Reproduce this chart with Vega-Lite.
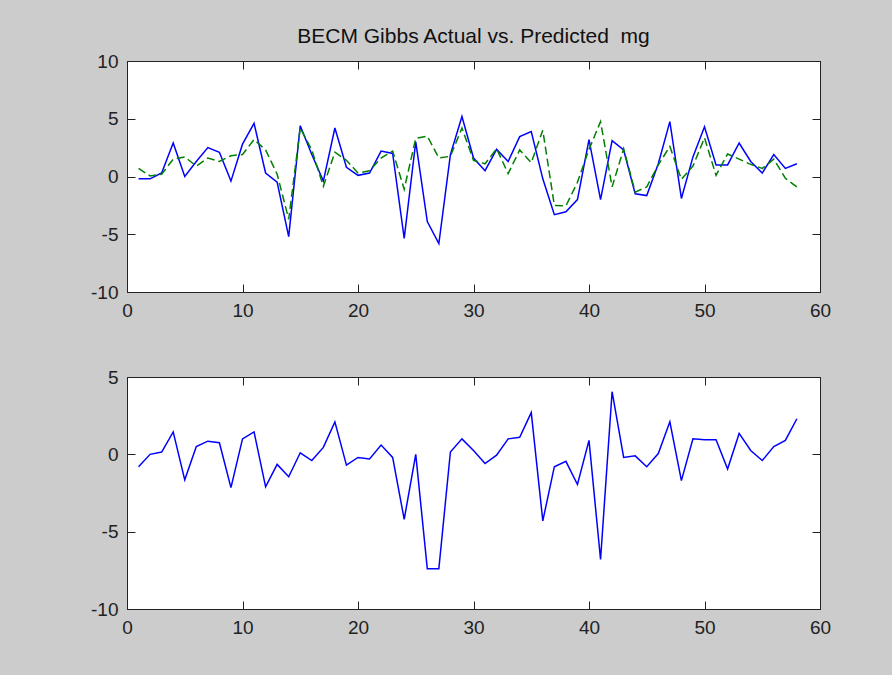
{
  "$schema": "https://vega.github.io/schema/vega-lite/v6.json",
  "background": "#cccccc",
  "padding": {"left": 90, "top": 25, "right": 80, "bottom": 80},
  "config": {
    "font": "Liberation Sans",
    "view": {"fill": "white", "stroke": "#222222", "strokeWidth": 1},
    "axis": {
      "title": null,
      "grid": false,
      "minExtent": 0,
      "domainColor": "#222222",
      "tickColor": "#222222",
      "tickSize": -8,
      "labelPadding": 17,
      "labelFont": "Liberation Sans",
      "labelFontSize": 19,
      "labelColor": "#222222",
      "labelFlush": false,
      "labelOverlap": false,
      "labelExpr": "'' + datum.value"
    }
  },
  "data": {
    "values": [
      {"x": 1, "actual": -0.2, "predicted": 0.7, "residual": -0.8},
      {"x": 2, "actual": -0.2, "predicted": 0.05, "residual": 0.0},
      {"x": 3, "actual": 0.3, "predicted": 0.2, "residual": 0.15},
      {"x": 4, "actual": 2.9, "predicted": 1.5, "residual": 1.45},
      {"x": 5, "actual": 0.0, "predicted": 1.7, "residual": -1.65},
      {"x": 6, "actual": 1.3, "predicted": 0.9, "residual": 0.5},
      {"x": 7, "actual": 2.5, "predicted": 1.6, "residual": 0.85},
      {"x": 8, "actual": 2.1, "predicted": 1.3, "residual": 0.75},
      {"x": 9, "actual": -0.4, "predicted": 1.8, "residual": -2.15},
      {"x": 10, "actual": 2.8, "predicted": 1.9, "residual": 1.0},
      {"x": 11, "actual": 4.6, "predicted": 3.2, "residual": 1.45},
      {"x": 12, "actual": 0.3, "predicted": 2.3, "residual": -2.1},
      {"x": 13, "actual": -0.5, "predicted": 0.2, "residual": -0.65},
      {"x": 14, "actual": -5.2, "predicted": -3.7, "residual": -1.45},
      {"x": 15, "actual": 4.4, "predicted": 4.2, "residual": 0.1},
      {"x": 16, "actual": 1.9, "predicted": 2.3, "residual": -0.4},
      {"x": 17, "actual": -0.4, "predicted": -0.85, "residual": 0.45},
      {"x": 18, "actual": 4.2, "predicted": 2.1, "residual": 2.1},
      {"x": 19, "actual": 0.8, "predicted": 1.4, "residual": -0.7},
      {"x": 20, "actual": 0.1, "predicted": 0.3, "residual": -0.2},
      {"x": 21, "actual": 0.3, "predicted": 0.5, "residual": -0.3},
      {"x": 22, "actual": 2.2, "predicted": 1.6, "residual": 0.6},
      {"x": 23, "actual": 2.0, "predicted": 2.2, "residual": -0.2},
      {"x": 24, "actual": -5.35, "predicted": -1.1, "residual": -4.2},
      {"x": 25, "actual": 3.0, "predicted": 3.3, "residual": 0.0},
      {"x": 26, "actual": -3.9, "predicted": 3.5, "residual": -7.4},
      {"x": 27, "actual": -5.8, "predicted": 1.6, "residual": -7.4},
      {"x": 28, "actual": 1.9, "predicted": 1.75, "residual": 0.15},
      {"x": 29, "actual": 5.2, "predicted": 4.2, "residual": 1.0},
      {"x": 30, "actual": 1.6, "predicted": 1.4, "residual": 0.25},
      {"x": 31, "actual": 0.5, "predicted": 1.1, "residual": -0.6},
      {"x": 32, "actual": 2.35, "predicted": 2.4, "residual": -0.05},
      {"x": 33, "actual": 1.3, "predicted": 0.25, "residual": 1.0},
      {"x": 34, "actual": 3.45, "predicted": 2.3, "residual": 1.1},
      {"x": 35, "actual": 3.9, "predicted": 1.2, "residual": 2.7},
      {"x": 36, "actual": -0.2, "predicted": 4.0, "residual": -4.3},
      {"x": 37, "actual": -3.3, "predicted": -2.5, "residual": -0.8},
      {"x": 38, "actual": -3.05, "predicted": -2.55, "residual": -0.45},
      {"x": 39, "actual": -2.0, "predicted": -0.5, "residual": -1.95},
      {"x": 40, "actual": 3.2, "predicted": 2.35, "residual": 0.9},
      {"x": 41, "actual": -2.0, "predicted": 4.75, "residual": -6.8},
      {"x": 42, "actual": 3.1, "predicted": -0.9, "residual": 4.05},
      {"x": 43, "actual": 2.3, "predicted": 2.4, "residual": -0.2},
      {"x": 44, "actual": -1.5, "predicted": -1.35, "residual": -0.1},
      {"x": 45, "actual": -1.65, "predicted": -0.9, "residual": -0.8},
      {"x": 46, "actual": 1.1, "predicted": 1.0, "residual": 0.05},
      {"x": 47, "actual": 4.75, "predicted": 2.6, "residual": 2.1},
      {"x": 48, "actual": -1.9, "predicted": -0.25, "residual": -1.7},
      {"x": 49, "actual": 1.7, "predicted": 0.9, "residual": 1.0},
      {"x": 50, "actual": 4.3, "predicted": 3.35, "residual": 0.95},
      {"x": 51, "actual": 1.0, "predicted": 0.1, "residual": 0.95},
      {"x": 52, "actual": 1.0, "predicted": 1.95, "residual": -0.95},
      {"x": 53, "actual": 2.9, "predicted": 1.5, "residual": 1.35},
      {"x": 54, "actual": 1.3, "predicted": 1.05, "residual": 0.25},
      {"x": 55, "actual": 0.3, "predicted": 0.7, "residual": -0.4},
      {"x": 56, "actual": 1.9, "predicted": 1.5, "residual": 0.5},
      {"x": 57, "actual": 0.7, "predicted": -0.15, "residual": 0.9},
      {"x": 58, "actual": 1.1, "predicted": -0.9, "residual": 2.3}
    ]
  },
  "vconcat": [
    {
      "width": 693,
      "height": 231,
      "title": {
        "text": "BECM Gibbs Actual vs. Predicted\u00a0 mg",
        "font": "Liberation Sans",
        "fontSize": 21,
        "fontWeight": "normal",
        "color": "#111111",
        "anchor": "middle",
        "baseline": "bottom",
        "offset": -16
      },
      "layer": [
        {
          "mark": {"type": "line", "color": "#0000ff", "strokeWidth": 1.5},
          "encoding": {
            "x": {"field": "x", "type": "quantitative", "scale": {"domain": [0, 60], "nice": false},
              "axis": {"orient": "bottom", "values": [0, 10, 20, 30, 40, 50, 60]}},
            "y": {"field": "actual", "type": "quantitative", "scale": {"domain": [-10, 10], "nice": false},
              "axis": {"orient": "left", "values": [-10, -5, 0, 5, 10]}}
          }
        },
        {
          "mark": {"type": "line", "color": "#008000", "strokeWidth": 1.5, "strokeDash": [8, 4]},
          "encoding": {
            "x": {"field": "x", "type": "quantitative",
              "axis": {"orient": "top", "labels": false, "maxExtent": 0, "values": [0, 10, 20, 30, 40, 50, 60]}},
            "y": {"field": "predicted", "type": "quantitative",
              "axis": {"orient": "right", "labels": false, "maxExtent": 0, "values": [-10, -5, 0, 5, 10]}}
          }
        }
      ],
      "resolve": {"axis": {"x": "independent", "y": "independent"}}
    },
    {
      "width": 693,
      "height": 232,
      "layer": [
        {
          "mark": {"type": "line", "color": "#0000ff", "strokeWidth": 1.5},
          "encoding": {
            "x": {"field": "x", "type": "quantitative", "scale": {"domain": [0, 60], "nice": false},
              "axis": {"orient": "bottom", "values": [0, 10, 20, 30, 40, 50, 60]}},
            "y": {"field": "residual", "type": "quantitative", "scale": {"domain": [-10, 5], "nice": false},
              "axis": {"orient": "left", "values": [-10, -5, 0, 5]}}
          }
        },
        {
          "mark": {"type": "line", "color": "#0000ff", "strokeWidth": 1.5, "opacity": 0},
          "encoding": {
            "x": {"field": "x", "type": "quantitative",
              "axis": {"orient": "top", "labels": false, "maxExtent": 0, "values": [0, 10, 20, 30, 40, 50, 60]}},
            "y": {"field": "residual", "type": "quantitative",
              "axis": {"orient": "right", "labels": false, "maxExtent": 0, "values": [-10, -5, 0, 5]}}
          }
        }
      ],
      "resolve": {"axis": {"x": "independent", "y": "independent"}}
    }
  ],
  "spacing": 85,
  "bounds": "flush"
}
